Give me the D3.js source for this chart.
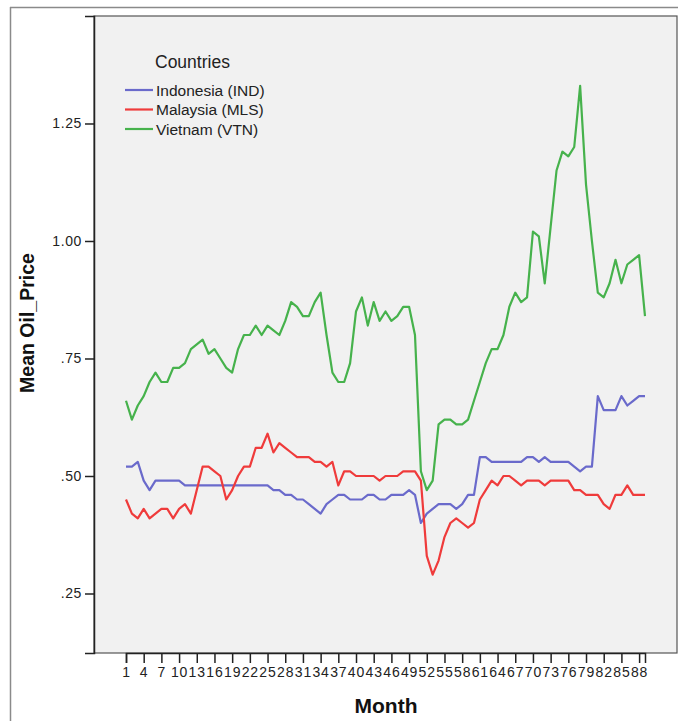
<!DOCTYPE html>
<html>
<head>
<meta charset="utf-8">
<script src="https://cdn.jsdelivr.net/npm/d3@7"></script>
<style>
  body { margin: 0; background: #fff; }
  svg { display: block; font-family: "Liberation Sans", Arial, sans-serif; }
</style>
</head>
<body>
<div class="chart"></div>
<script>
// months 1..89
var months = d3.range(1, 90);
var tickMonths = d3.range(1, 89, 3);
var yTicks = [0.25, 0.50, 0.75, 1.00, 1.25];
var countries = ["Indonesia (IND)", "Malaysia (MLS)", "Vietnam (VTN)"];

var ind = [
  0.52,0.52,0.53,0.49,0.47,0.49,0.49,0.49,0.49,0.49,
  0.48,0.48,0.48,0.48,0.48,0.48,0.48,0.48,0.48,0.48,
  0.48,0.48,0.48,0.48,0.48,0.47,0.47,0.46,0.46,0.45,
  0.45,0.44,0.43,0.42,0.44,0.45,0.46,0.46,0.45,0.45,
  0.45,0.46,0.46,0.45,0.45,0.46,0.46,0.46,0.47,0.46,
  0.40,0.42,0.43,0.44,0.44,0.44,0.43,0.44,0.46,0.46,
  0.54,0.54,0.53,0.53,0.53,0.53,0.53,0.53,0.54,0.54,
  0.53,0.54,0.53,0.53,0.53,0.53,0.52,0.51,0.52,0.52,
  0.67,0.64,0.64,0.64,0.67,0.65,0.66,0.67,0.67
];
var mls = [
  0.45,0.42,0.41,0.43,0.41,0.42,0.43,0.43,0.41,0.43,
  0.44,0.42,0.47,0.52,0.52,0.51,0.50,0.45,0.47,0.50,
  0.52,0.52,0.56,0.56,0.59,0.55,0.57,0.56,0.55,0.54,
  0.54,0.54,0.53,0.53,0.52,0.53,0.48,0.51,0.51,0.50,
  0.50,0.50,0.50,0.49,0.50,0.50,0.50,0.51,0.51,0.51,
  0.49,0.33,0.29,0.32,0.37,0.40,0.41,0.40,0.39,0.40,
  0.45,0.47,0.49,0.48,0.50,0.50,0.49,0.48,0.49,0.49,
  0.49,0.48,0.49,0.49,0.49,0.49,0.47,0.47,0.46,0.46,
  0.46,0.44,0.43,0.46,0.46,0.48,0.46,0.46,0.46
];
var vtn = [
  0.66,0.62,0.65,0.67,0.70,0.72,0.70,0.70,0.73,0.73,
  0.74,0.77,0.78,0.79,0.76,0.77,0.75,0.73,0.72,0.77,
  0.80,0.80,0.82,0.80,0.82,0.81,0.80,0.83,0.87,0.86,
  0.84,0.84,0.87,0.89,0.80,0.72,0.70,0.70,0.74,0.85,
  0.88,0.82,0.87,0.83,0.85,0.83,0.84,0.86,0.86,0.80,
  0.51,0.47,0.49,0.61,0.62,0.62,0.61,0.61,0.62,0.66,
  0.70,0.74,0.77,0.77,0.80,0.86,0.89,0.87,0.88,1.02,
  1.01,0.91,1.03,1.15,1.19,1.18,1.20,1.33,1.12,1.00,
  0.89,0.88,0.91,0.96,0.91,0.95,0.96,0.97,0.84
];
var seriesValues = [ind, mls, vtn];
var colors = ["#6a6acb", "#ef3b3b", "#46b24c"];

var width = 678, height = 721;
var plot = {left: 94, top: 16, right: 677, bottom: 653};
var pw = plot.right - plot.left, ph = plot.bottom - plot.top;

var svg = d3.select(".chart").append("svg")
    .attr("width", width)
    .attr("height", height);

// outer frame lines
svg.append("line").attr("x1", 10).attr("x2", 678).attr("y1", 7.5).attr("y2", 7.5)
    .attr("stroke", "#8a8a8a").attr("stroke-width", 1.5);
svg.append("line").attr("x1", 10.5).attr("x2", 10.5).attr("y1", 7).attr("y2", 721)
    .attr("stroke", "#8a8a8a").attr("stroke-width", 1.5);

var g = svg.append("g").attr("transform", `translate(${plot.left},${plot.top})`);

g.append("rect").attr("width", pw).attr("height", ph)
    .attr("fill", "#f1f1f1").attr("stroke", "#555").attr("stroke-width", 1.2);

var x = d3.scaleLinear().domain([1, 89]).range([32, 551]);
var y = d3.scaleLinear().domain([0.1234, 1.4787]).range([ph, 0]);

var line = d3.line().x((d, i) => x(months[i])).y(d => y(d));

g.append("g").selectAll("path")
    .data(seriesValues).enter()
    .append("path")
    .attr("fill", "none")
    .attr("stroke", (d, i) => colors[i])
    .attr("stroke-width", 2.2)
    .attr("stroke-linejoin", "round")
    .attr("d", line);

// axes
var fmt = v => v >= 1 ? d3.format(".2f")(v) : d3.format(".2f")(v).replace(/^0/, "");
var yAxis = g.append("g")
    .call(d3.axisLeft(y).tickValues(yTicks).tickFormat(fmt).tickSize(9).tickPadding(3));
var xAxis = g.append("g").attr("transform", `translate(0,${ph})`)
    .call(d3.axisBottom(x).tickValues(tickMonths).tickSize(10).tickPadding(4));

[yAxis, xAxis].forEach(ax => {
  ax.select(".domain").attr("stroke", "#222").attr("stroke-width", 1.5);
  ax.selectAll(".tick line").attr("stroke", "#222").attr("stroke-width", 1.5);
  ax.selectAll(".tick text").attr("fill", "#222")
    .style("font-size", "14px")
    .style("font-family", "'Liberation Sans', Arial, sans-serif");
});
xAxis.selectAll(".tick text").attr("letter-spacing", "0.9");
yAxis.selectAll(".tick text").attr("letter-spacing", "0.6");

// axis titles
svg.append("text")
    .attr("x", 386).attr("y", 713)
    .attr("text-anchor", "middle")
    .style("font-size", "21px").style("font-weight", "bold").attr("fill", "#111")
    .text("Month");
svg.append("text")
    .attr("transform", "translate(34,323) rotate(-90)")
    .attr("text-anchor", "middle")
    .style("font-size", "19.5px").style("font-weight", "bold").attr("fill", "#111")
    .text("Mean Oil_Price");

// legend
var legend = svg.append("g").attr("transform", "translate(125,0)");
legend.append("text").attr("x", 30).attr("y", 68)
    .style("font-size", "17.5px").attr("fill", "#222").text("Countries");
var items = legend.selectAll("g.item").data(countries).enter()
    .append("g").attr("class", "item")
    .attr("transform", (d, i) => `translate(0,${90 + i * 19.5})`);
items.append("line").attr("x1", 0).attr("x2", 28)
    .attr("stroke", (d, i) => colors[i]).attr("stroke-width", 2.2);
items.append("text").attr("x", 31).attr("dy", "0.36em")
    .style("font-size", "15.5px").attr("fill", "#222")
    .text(d => d);
</script>
</body>
</html>
